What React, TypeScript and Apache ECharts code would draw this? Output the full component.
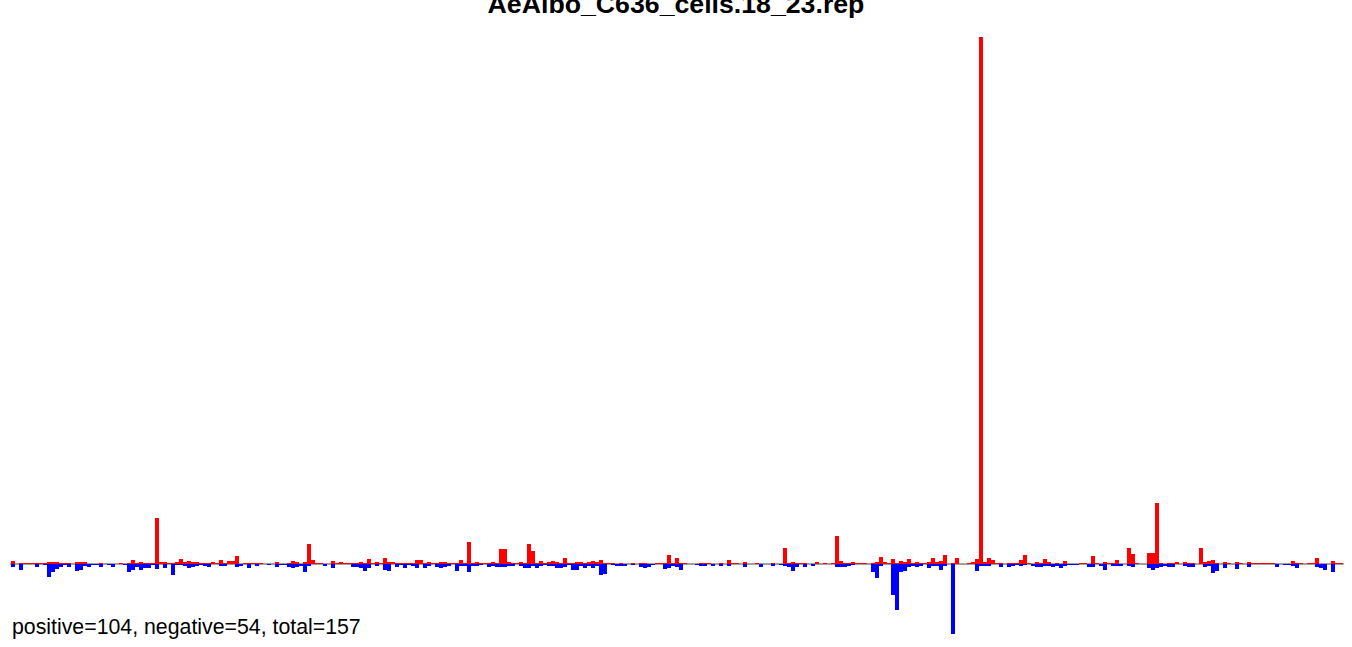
import React, { useEffect, useRef } from "react";
import * as echarts from "echarts";

const titleText = "AeAlbo_C636_cells.18_23.rep";
const footText = "positive=104, negative=54, total=157";

// red (positive) values per bin
const positive: number[] = [
  3, 0, 1, 1, 1, 1, 1, 1, 1, 2, 2, 2, 1, 1, 1, 0, 2, 2, 2, 0,
  0, 0, 1, 0, 0, 0, 0, 1, 0, 1, 4, 1, 2, 1, 1, 1, 46, 2, 2, 1,
  1, 2, 5, 2, 3, 2, 2, 1, 1, 1, 2, 1, 4, 1, 3, 3, 8, 0, 1, 1,
  1, 1, 1, 0, 0, 0, 2, 0, 0, 1, 3, 2, 0, 2, 20, 4, 1, 1, 0, 0,
  3, 1, 2, 1, 1, 1, 1, 2, 1, 5, 1, 2, 1, 6, 2, 2, 1, 1, 1, 1,
  1, 4, 4, 1, 2, 1, 1, 2, 2, 1, 1, 1, 4, 1, 22, 1, 2, 1, 1, 1,
  2, 1, 15, 15, 2, 1, 1, 2, 1, 20, 13, 1, 3, 1, 2, 3, 2, 1, 6, 1,
  1, 2, 2, 1, 2, 3, 2, 4, 1, 1, 1, 0, 1, 0, 0, 1, 0, 1, 1, 0,
  0, 1, 1, 1, 9, 1, 6, 1, 1, 0, 0, 0, 1, 1, 1, 0, 0, 1, 0, 4,
  1, 1, 0, 2, 0, 0, 1, 0, 0, 0, 1, 0, 0, 16, 1, 2, 1, 1, 1, 0,
  0, 2, 0, 1, 0, 1, 28, 3, 1, 1, 2, 1, 1, 1, 0, 1, 2, 7, 2, 1,
  5, 1, 3, 2, 5, 1, 2, 1, 1, 2, 6, 2, 3, 9, 0, 1, 6, 0, 0, 1,
  2, 5, 527, 2, 6, 4, 1, 1, 0, 1, 1, 1, 4, 9, 1, 0, 2, 1, 5, 2,
  0, 1, 0, 3, 0, 0, 0, 1, 1, 0, 8, 1, 0, 2, 1, 1, 4, 0, 0, 16,
  10, 1, 0, 0, 11, 11, 61, 1, 0, 1, 1, 2, 0, 2, 1, 1, 0, 16, 2, 3,
  4, 1, 0, 2, 1, 0, 2, 1, 0, 2, 1, 1, 1, 1, 1, 1, 0, 0, 0, 0,
  3, 1, 1, 0, 1, 1, 6, 0, 0, 0, 3, 1, 1,
];

// blue (negative) magnitudes per bin
const negative: number[] = [
  3, 0, 6, 0, 0, 0, 3, 0, 1, 13, 8, 5, 3, 1, 3, 0, 7, 6, 2, 3,
  1, 1, 3, 0, 1, 3, 0, 0, 1, 8, 6, 3, 6, 4, 4, 1, 5, 0, 4, 0,
  11, 1, 1, 2, 4, 3, 2, 1, 2, 3, 0, 0, 2, 2, 0, 0, 3, 2, 0, 4,
  0, 2, 0, 0, 1, 0, 3, 1, 1, 3, 4, 3, 2, 8, 2, 0, 0, 0, 2, 0,
  4, 0, 0, 0, 0, 3, 3, 4, 7, 4, 0, 2, 0, 6, 7, 0, 3, 1, 4, 1,
  2, 4, 0, 4, 2, 0, 3, 4, 3, 2, 0, 7, 2, 2, 8, 2, 2, 1, 0, 3,
  2, 3, 3, 3, 2, 2, 0, 2, 4, 4, 2, 4, 2, 1, 2, 2, 4, 4, 3, 1,
  6, 6, 2, 4, 2, 4, 2, 11, 10, 0, 1, 2, 2, 2, 0, 1, 0, 3, 4, 3,
  1, 0, 0, 5, 4, 2, 3, 6, 0, 0, 0, 1, 2, 2, 0, 2, 0, 2, 0, 2,
  0, 0, 0, 3, 0, 0, 0, 3, 0, 0, 2, 0, 1, 2, 3, 7, 3, 0, 3, 0,
  2, 0, 0, 0, 0, 0, 3, 3, 3, 2, 1, 0, 0, 0, 0, 8, 14, 2, 0, 0,
  31, 46, 8, 7, 3, 2, 3, 2, 0, 4, 2, 2, 6, 2, 0, 70, 0, 0, 0, 0,
  0, 7, 2, 2, 2, 0, 0, 3, 0, 3, 2, 1, 2, 1, 0, 2, 3, 3, 2, 2,
  3, 2, 4, 2, 1, 1, 1, 0, 0, 3, 3, 0, 2, 6, 0, 2, 2, 2, 0, 2,
  3, 0, 0, 0, 4, 6, 4, 3, 2, 3, 3, 0, 0, 2, 3, 3, 0, 0, 3, 2,
  9, 7, 0, 4, 0, 0, 5, 0, 0, 3, 0, 0, 0, 0, 0, 0, 3, 0, 1, 1,
  2, 4, 0, 0, 0, 0, 3, 4, 6, 0, 8, 0, 0,
];

const bins: string[] = positive.map((_, i) => String(i + 1));

export default function App() {
  const ref = useRef<HTMLDivElement>(null);
  useEffect(() => {
    if (!ref.current) return;
    const chart = echarts.init(ref.current, undefined, { renderer: "svg" });
    chart.setOption({
      animation: false,
      backgroundColor: "#ffffff",
      grid: { left: 11, right: 9, top: 37, bottom: 13, containLabel: false },
      xAxis: {
        type: "category",
        data: bins,
        axisLine: { show: true, onZero: true, lineStyle: { color: "#a0a0a0", width: 2 } },
        axisTick: { show: false },
        axisLabel: { show: false },
        splitLine: { show: false },
      },
      yAxis: {
        type: "value",
        min: -70,
        max: 527,
        show: false,
        splitLine: { show: false },
      },
      series: [
        {
          type: "bar",
          name: "positive",
          data: positive,
          barCategoryGap: "0%",
          barGap: "-100%",
          itemStyle: { color: "#ff0000" },
          z: 3,
        },
        {
          type: "bar",
          name: "negative",
          data: negative.map((v) => -v),
          barCategoryGap: "0%",
          barGap: "-100%",
          itemStyle: { color: "#0000ff" },
          z: 3,
        },
      ],
      graphic: [
        {
          type: "text",
          left: "center",
          top: -10,
          style: {
            text: titleText,
            fontFamily: "Liberation Sans, Arial, sans-serif",
            fontWeight: "bold",
            fontSize: 26.7,
            fill: "#000000",
          },
        },
        {
          type: "text",
          x: 12,
          y: 627,
          style: {
            text: footText,
            fontFamily: "Liberation Sans, Arial, sans-serif",
            fontSize: 21.3,
            fill: "#000000",
            verticalAlign: "middle",
          },
        },
      ],
    });
    return () => chart.dispose();
  }, []);
  return (
    <div
      ref={ref}
      style={{ position: "fixed", left: 0, top: 0, width: 1352, height: 647, background: "#fff" }}
    />
  );
}
